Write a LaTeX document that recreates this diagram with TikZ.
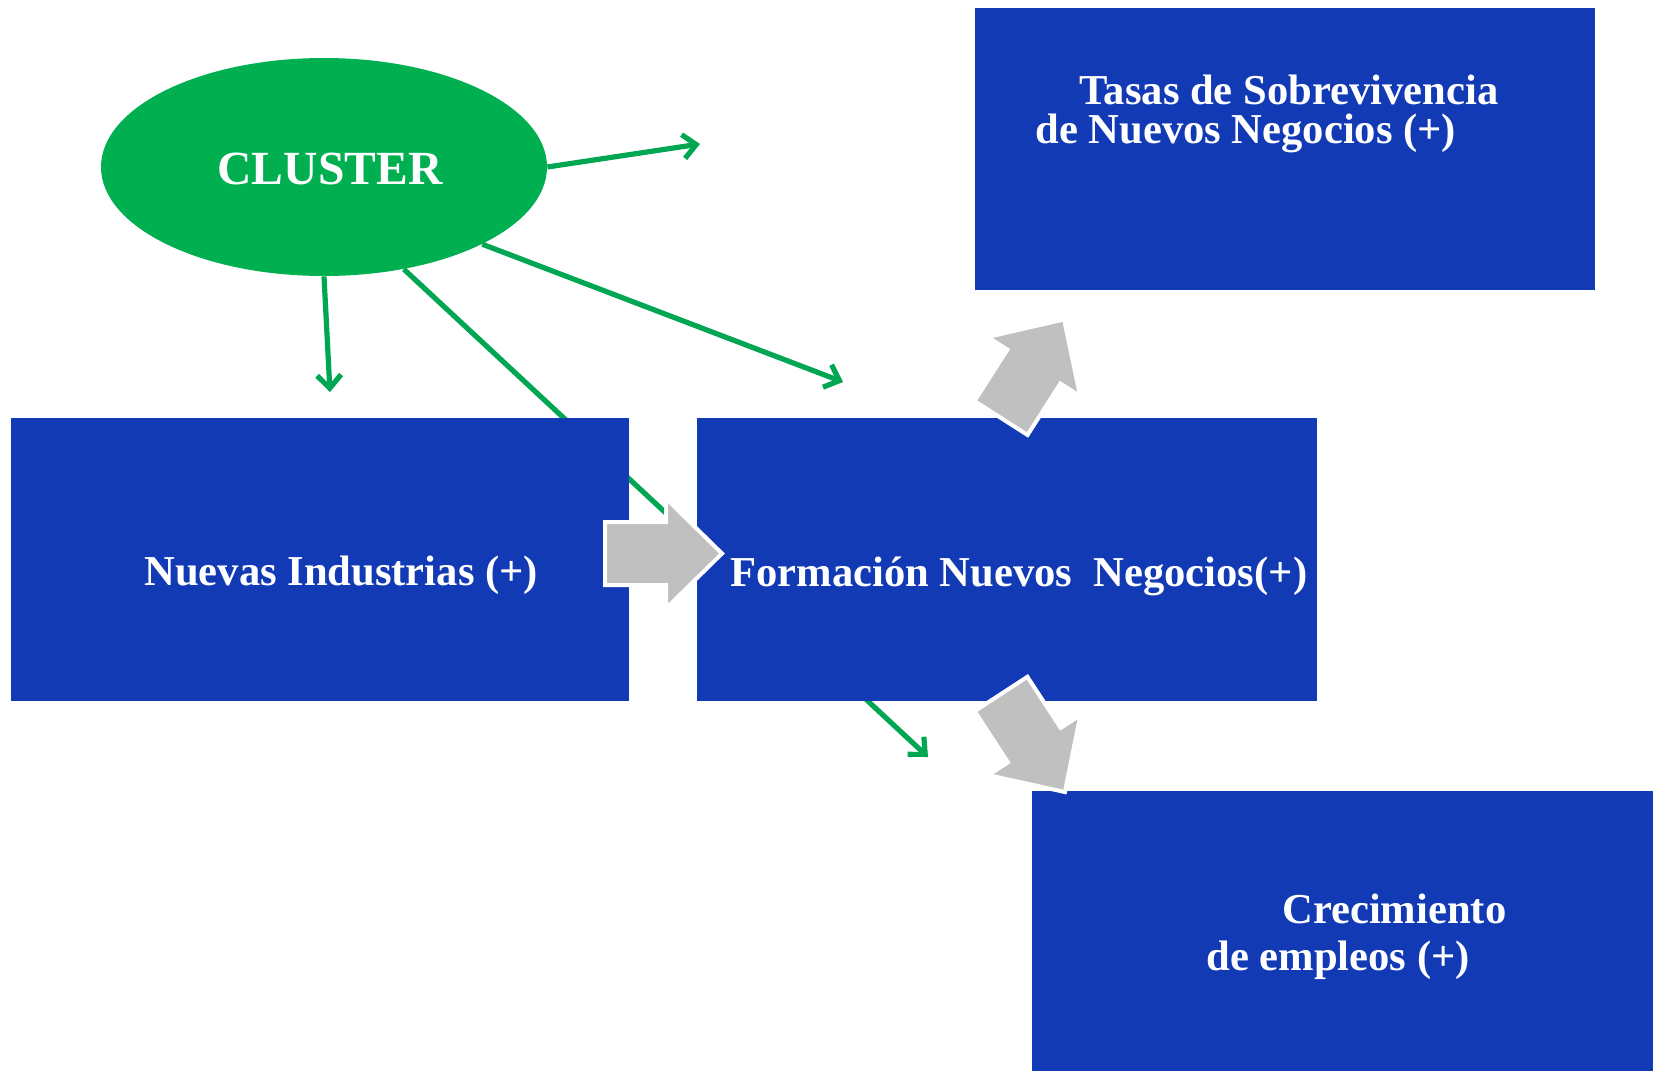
\documentclass[tikz,border=0pt]{standalone}
\usepackage{fontspec}
\setmainfont{Liberation Serif}
\usetikzlibrary{shapes.geometric,arrows.meta}
\definecolor{boxblue}{RGB}{19,58,181}
\definecolor{clgreen}{RGB}{0,175,80}
\definecolor{lngreen}{RGB}{0,166,81}
\definecolor{arrgray}{RGB}{192,192,192}
\tikzset{
  bluebox/.style={fill=boxblue, draw=none, inner sep=0pt},
  txt/.style={text=white, inner sep=0pt, anchor=base west, font=\fontsize{21.3pt}{24pt}\selectfont\bfseries},
  link/.style={draw=lngreen, line width=2.6pt, -{Straight Barb[length=6.5pt,width=12pt,line width=2.6pt]}},
  blockarrow/.style={fill=arrgray, draw=white, line width=2pt, line join=miter}
}
\begin{document}
\begin{tikzpicture}[x=0.5pt,y=-0.5pt]
\useasboundingbox (0,0) rectangle (1653,1071);
% cluster ellipse
\node[ellipse, fill=clgreen, draw=none, minimum width=223pt, minimum height=109pt, inner sep=0pt] (cl) at (324,167) {};
\node[text=white, inner sep=0pt, anchor=base, font=\fontsize{23.8pt}{26pt}\selectfont\bfseries] (cltxt) at (330,184) {CLUSTER};
% free ends of the green connectors
\coordinate (e1) at (700,144);
\coordinate (e2) at (330,392);
\coordinate (e3) at (843,382);
\coordinate (e4) at (928,757);
\draw[link] (cl.east) -- (e1);
\draw[link] (cl.south) -- (e2);
\draw[link] (cl.-26.6) -- (e3);
\draw[link] (cl.-52.4) -- (e4);
% boxes
\path[bluebox] (11,418) rectangle (629,701) node[midway] (b1) {};
\path[bluebox] (697,418) rectangle (1317,701) node[midway] (b2) {};
\path[bluebox] (975,8) rectangle (1595,290) node[midway] (b3) {};
\path[bluebox] (1032,791) rectangle (1653,1071) node[midway] (b4) {};
% gray block arrows
\begin{scope}[shift={(605,553.5)}]
  \path[blockarrow] (0,-31.5) -- (61,-31.5) -- (61,-55) -- (117,0) -- (61,55) -- (61,31.5) -- (0,31.5) -- cycle;
\end{scope}
\begin{scope}[shift={(1001,418)}, rotate=57.4]
  \path[blockarrow] (0,-31.5) -- (61,-31.5) -- (61,-55) -- (117,0) -- (61,55) -- (61,31.5) -- (0,31.5) -- cycle;
\end{scope}
\begin{scope}[shift={(1001,694)}, rotate=-56.9]
  \path[blockarrow] (0,-31.5) -- (61,-31.5) -- (61,-55) -- (117,0) -- (61,55) -- (61,31.5) -- (0,31.5) -- cycle;
\end{scope}
% texts
\node[txt] (t1) at (144,585) {Nuevas Industrias (+)};
\node[txt] (t2) at (730,586) {Formación Nuevos\ \ Negocios(+)};
\node[txt] (t3a) at (1079,104) {Tasas de Sobrevivencia};
\node[txt] (t3b) at (1035,143) {de Nuevos Negocios (+)};
\node[txt] (t4a) at (1282,923) {Crecimiento};
\node[txt] (t4b) at (1206,970) {de empleos (+)};
\end{tikzpicture}
\end{document}
